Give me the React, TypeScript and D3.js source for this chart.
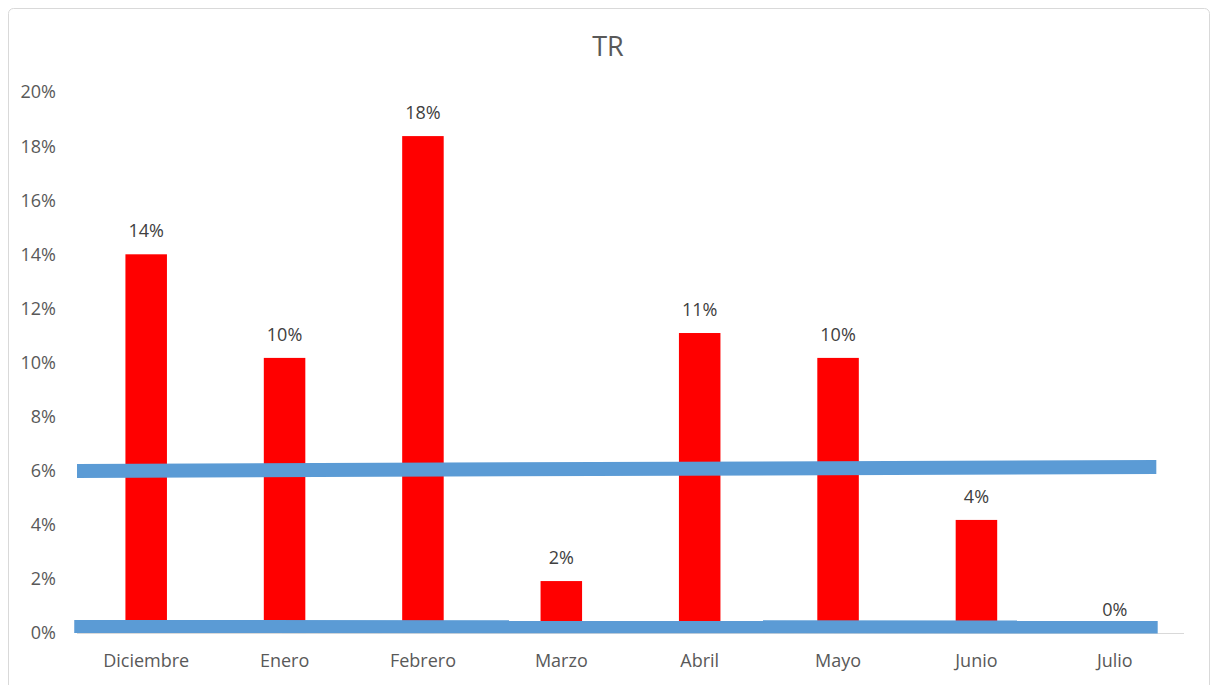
import React from "react";
import * as d3 from "d3";

// Monthly TR values (%)
const months = ["Diciembre", "Enero", "Febrero", "Marzo", "Abril", "Mayo", "Junio", "Julio"];
const trValues = [14.0, 10.17, 18.37, 1.92, 11.09, 10.17, 4.18, 0];
const yTicks = [0, 2, 4, 6, 8, 10, 12, 14, 16, 18, 20];

// Hand-drawn reference strokes: position in category units (0..8) and value (%) at each end
const refStartPos = [0, -0.02];
const refEndPos = [7.8, 7.81];
const refStartVal = [5.99, 0.24];
const refEndVal = [6.14, 0.22];

const W = 1215;
const H = 685;
const FONT = "'Open Sans', 'DejaVu Sans', sans-serif";
const TEXT = "#595959";

export default function App() {
  const x = d3.scaleBand<string>().domain(months).range([77, 1184]);
  const xPos = d3.scaleLinear().domain([0, months.length]).range([77, 1184]);
  const y = d3.scaleLinear().domain([0, 20]).range([633, 92]);
  const barW = x.bandwidth() * 0.3;

  return (
    <svg
      width={W}
      height={H}
      style={{ position: "absolute", left: 0, top: 0, background: "#fff" }}
      fontFamily={FONT}
    >
      {/* chart frame */}
      <rect x={8.5} y={8.5} width={1201} height={690} rx={5} fill="#fff" stroke="#d9d9d9" />

      <text x={608} y={56} textAnchor="middle" fontSize={27} fill={TEXT}>
        TR
      </text>

      {/* y tick labels */}
      {yTicks.map((t) => (
        <text key={t} x={56} y={y(t)} dy="0.36em" textAnchor="end" fontSize={18} fill={TEXT}>
          {t}%
        </text>
      ))}

      {/* bars */}
      {months.map((m, i) => (
        <rect
          key={m}
          x={(x(m) as number) + (x.bandwidth() - barW) / 2}
          y={y(trValues[i])}
          width={barW}
          height={y(0) - y(trValues[i])}
          fill="#ff0000"
        />
      ))}

      {/* category axis */}
      <line x1={x.range()[0]} x2={x.range()[1]} y1={y(0) + 0.5} y2={y(0) + 0.5} stroke="#d9d9d9" />
      {months.map((m) => (
        <text
          key={m}
          x={(x(m) as number) + x.bandwidth() / 2}
          y={667}
          textAnchor="middle"
          fontSize={18}
          fill={TEXT}
        >
          {m}
        </text>
      ))}

      {/* data labels */}
      {months.map((m, i) => (
        <text
          key={m}
          x={(x(m) as number) + x.bandwidth() / 2}
          y={y(trValues[i]) - 17}
          textAnchor="middle"
          fontSize={18}
          fill="#404040"
        >
          {Math.round(trValues[i])}%
        </text>
      ))}

      {/* reference strokes */}
      {refStartVal.map((v, i) => (
        <line
          key={i}
          x1={xPos(refStartPos[i])}
          y1={y(v)}
          x2={xPos(refEndPos[i])}
          y2={y(refEndVal[i])}
          stroke="#5b9bd5"
          strokeWidth={i === 0 ? 14 : 13}
        />
      ))}
    </svg>
  );
}
